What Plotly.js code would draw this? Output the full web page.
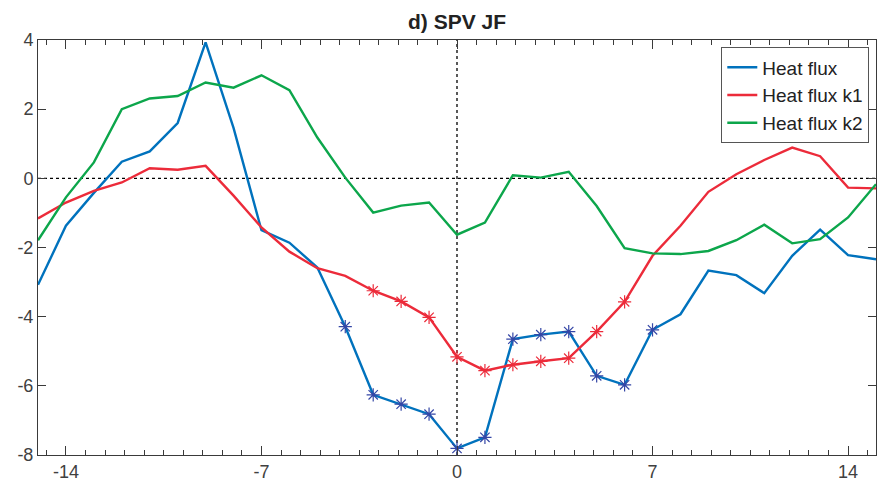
<!DOCTYPE html>
<html>
<head>
<meta charset="utf-8">
<script src="https://cdn.plot.ly/plotly-3.0.1.min.js"></script>
<style>html,body{margin:0;padding:0;background:#fff;}#chart{width:878px;height:483px;}</style>
</head>
<body>
<div id="chart"></div>
<script>
const lags = [-15,-14,-13,-12,-11,-10,-9,-8,-7,-6,-5,-4,-3,-2,-1,0,1,2,3,4,5,6,7,8,9,10,11,12,13,14,15];
const heatFlux = [-3.08,-1.37,-0.42,0.48,0.78,1.6,3.93,1.46,-1.5,-1.86,-2.58,-4.29,-6.26,-6.53,-6.82,-7.81,-7.49,-4.65,-4.52,-4.43,-5.71,-5.97,-4.38,-3.93,-2.67,-2.8,-3.32,-2.24,-1.48,-2.22,-2.34];
const heatFluxK1 = [-1.16,-0.7,-0.36,-0.12,0.29,0.25,0.36,-0.5,-1.42,-2.12,-2.6,-2.82,-3.25,-3.56,-4.02,-5.16,-5.56,-5.39,-5.29,-5.2,-4.43,-3.57,-2.24,-1.37,-0.39,0.12,0.53,0.89,0.64,-0.27,-0.29];
const heatFluxK2 = [-1.79,-0.55,0.46,2.0,2.31,2.38,2.77,2.62,2.98,2.55,1.18,0.02,-0.99,-0.79,-0.7,-1.63,-1.28,0.09,0.02,0.19,-0.8,-2.02,-2.17,-2.19,-2.1,-1.79,-1.34,-1.88,-1.76,-1.13,-0.17];
// lags flagged with star markers
const starLagsHeat = [-4,-3,-2,-1,0,1,2,3,4,5,6,7];
const starLagsK1 = [-3,-2,-1,0,1,2,3,4,5,6];
const xTicks = [-14,-7,0,7,14];
const xTickText = ['-14','-7','0','7','14'];
const yTicks = [-8,-6,-4,-2,0,2,4];
const yTickText = ['-8','-6','-4','-2','0','2','4'];

const cBlue = '#0072BD', cRed = '#EC2B3A', cGreen = '#0CA64B';
const starBlue = '#3446A6';

function pick(vals, lagsSel){
  return lagsSel.map(l => vals[lags.indexOf(l)]);
}

const traces = [
  {x: lags, y: heatFlux, mode:'lines', name:'Heat flux', line:{color:cBlue, width:2.4}},
  {x: lags, y: heatFluxK1, mode:'lines', name:'Heat flux k1', line:{color:cRed, width:2.4}},
  {x: lags, y: heatFluxK2, mode:'lines', name:'Heat flux k2', line:{color:cGreen, width:2.4}},
  {x: starLagsHeat, y: pick(heatFlux, starLagsHeat), mode:'markers', showlegend:false, hoverinfo:'skip',
   marker:{symbol:'asterisk-open', size:11, color:starBlue, line:{color:starBlue, width:1.2}}},
  {x: starLagsK1, y: pick(heatFluxK1, starLagsK1), mode:'markers', showlegend:false, hoverinfo:'skip',
   marker:{symbol:'asterisk-open', size:11, color:cRed, line:{color:cRed, width:1.2}}}
];

const axisCommon = {
  showline:true, linecolor:'#3a3a3a', linewidth:1, mirror:'ticks',
  ticks:'inside', tickcolor:'#3a3a3a', tickwidth:1,
  showgrid:false, zeroline:false,
  tickfont:{family:'Liberation Sans, Arial, sans-serif', size:18, color:'#404040'}
};

const layout = {
  width:878, height:483,
  margin:{l:38, r:2, t:40, b:28, pad:0},
  paper_bgcolor:'#fff', plot_bgcolor:'#fff',
  title:{text:'<b>d) SPV JF</b>', x:0.5, xref:'paper', y:1-22/483, yref:'container', yanchor:'middle',
         font:{family:'Liberation Sans, Arial, sans-serif', size:21, color:'#222'}},
  xaxis: Object.assign({}, axisCommon, {
    range:[-15,15], tickmode:'array', tickvals:xTicks, ticktext:xTickText, ticklen:9,
    minor:{dtick:0.7, tick0:0, ticks:'inside', ticklen:5, tickcolor:'#3a3a3a', tickwidth:1, showgrid:false}
  }),
  yaxis: Object.assign({}, axisCommon, {
    range:[-8,4], tickmode:'array', tickvals:yTicks, ticktext:yTickText, ticklen:8
  }),
  showlegend:true,
  legend:{x:0.992, xanchor:'right', y:0.982, yanchor:'top',
    bgcolor:'#fff', bordercolor:'#555', borderwidth:1,
    font:{family:'Liberation Sans, Arial, sans-serif', size:19, color:'#222'},
    tracegroupgap:0, itemwidth:30},
  shapes:[
    {type:'line', xref:'paper', x0:0, x1:1, yref:'y', y0:0, y1:0, line:{color:'#000', width:1.3, dash:'dot'}, layer:'below'},
    {type:'line', yref:'paper', y0:0, y1:1, xref:'x', x0:0, x1:0, line:{color:'#000', width:1.3, dash:'dot'}, layer:'below'}
  ]
};

Plotly.newPlot('chart', traces, layout, {displayModeBar:false, staticPlot:true});
</script>
</body>
</html>
